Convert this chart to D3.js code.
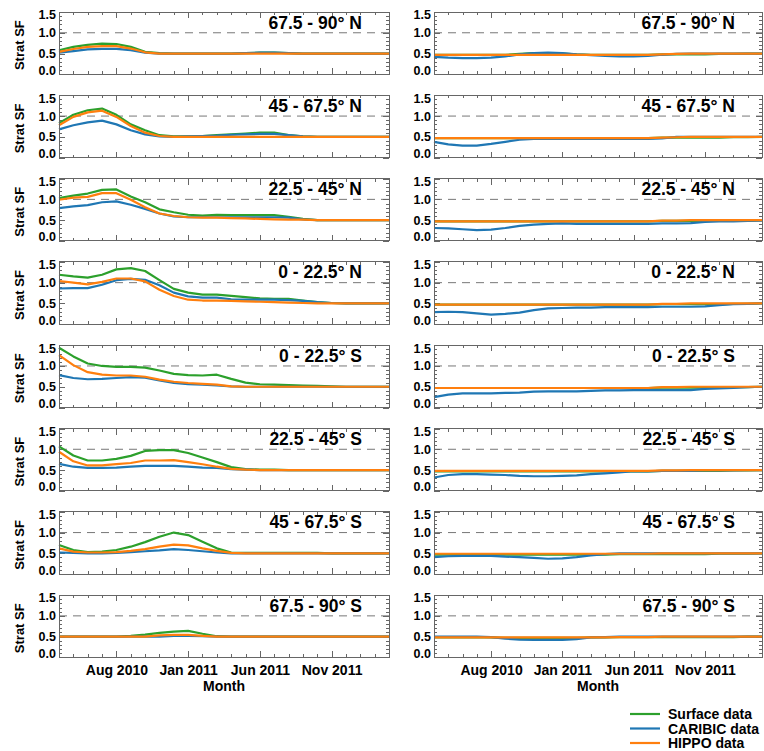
<!DOCTYPE html>
<html>
<head>
<meta charset="utf-8">
<script src="https://cdn.jsdelivr.net/npm/d3@7"></script>
<style>
    body { margin: 0; background: #fff; }
    svg text { font-family: "Liberation Sans", Arial, Helvetica, sans-serif; font-weight: bold; fill: #000; }
</style>
</head>
<body>
<svg id="chart" width="764" height="751"></svg>
<script>
// months on the x axis (Apr 2010 .. Mar 2012)
var months = ['Apr 2010', 'May 2010', 'Jun 2010', 'Jul 2010', 'Aug 2010', 'Sep 2010', 'Oct 2010', 'Nov 2010',
    'Dec 2010', 'Jan 2011', 'Feb 2011', 'Mar 2011', 'Apr 2011', 'May 2011', 'Jun 2011', 'Jul 2011',
    'Aug 2011', 'Sep 2011', 'Oct 2011', 'Nov 2011', 'Dec 2011', 'Jan 2012', 'Feb 2012', 'Mar 2012'];
var tickMonths = ['Aug 2010', 'Jan 2011', 'Jun 2011', 'Nov 2011'];
var yTicks = [0, 0.5, 1.0, 1.5];

var regions = ['67.5 - 90° N', '45 - 67.5° N', '22.5 - 45° N', '0 - 22.5° N',
    '0 - 22.5° S', '22.5 - 45° S', '45 - 67.5° S', '67.5 - 90° S'];

var seriesNames = ['Surface data', 'CARIBIC data', 'HIPPO data'];

// left column
var surfaceLeft = [
    [0.58,0.66,0.71,0.74,0.73,0.66,0.54,0.51,0.50,0.50,0.50,0.50,0.50,0.51,0.52,0.52,0.51,0.50,0.50,0.50,0.50,0.50,0.50,0.50],
    [0.83,1.03,1.14,1.18,1.03,0.80,0.66,0.54,0.51,0.51,0.52,0.54,0.56,0.58,0.60,0.60,0.54,0.51,0.50,0.50,0.50,0.50,0.50,0.50],
    [1.03,1.09,1.14,1.23,1.24,1.07,0.93,0.76,0.69,0.63,0.61,0.63,0.62,0.62,0.62,0.62,0.58,0.53,0.50,0.50,0.50,0.50,0.50,0.50],
    [1.19,1.15,1.12,1.19,1.32,1.35,1.28,1.06,0.85,0.76,0.71,0.71,0.68,0.65,0.62,0.61,0.61,0.57,0.53,0.51,0.50,0.50,0.50,0.50],
    [1.44,1.23,1.06,1.00,0.98,0.98,0.96,0.89,0.81,0.78,0.77,0.79,0.69,0.60,0.56,0.55,0.54,0.53,0.52,0.51,0.50,0.50,0.50,0.50],
    [1.07,0.85,0.73,0.73,0.77,0.84,0.96,0.98,0.98,0.91,0.80,0.69,0.57,0.52,0.51,0.51,0.50,0.50,0.50,0.50,0.50,0.50,0.50,0.50],
    [0.70,0.58,0.53,0.54,0.58,0.66,0.77,0.90,1.00,0.94,0.78,0.62,0.52,0.51,0.51,0.51,0.51,0.51,0.51,0.50,0.50,0.50,0.50,0.50],
    [0.50,0.50,0.50,0.50,0.50,0.52,0.55,0.59,0.62,0.64,0.57,0.51,0.50,0.50,0.50,0.50,0.50,0.50,0.50,0.50,0.50,0.50,0.50,0.50]
];
var caribicLeft = [
    [0.52,0.56,0.60,0.61,0.61,0.58,0.52,0.50,0.50,0.50,0.50,0.50,0.50,0.51,0.52,0.52,0.51,0.50,0.50,0.50,0.50,0.50,0.50,0.50],
    [0.68,0.78,0.85,0.89,0.80,0.66,0.56,0.51,0.50,0.51,0.52,0.53,0.55,0.56,0.57,0.57,0.54,0.51,0.50,0.50,0.50,0.50,0.50,0.50],
    [0.79,0.83,0.86,0.93,0.95,0.87,0.77,0.66,0.59,0.57,0.57,0.57,0.57,0.57,0.57,0.57,0.56,0.52,0.50,0.50,0.50,0.50,0.50,0.50],
    [0.86,0.87,0.87,0.95,1.06,1.09,1.07,0.94,0.76,0.67,0.64,0.64,0.60,0.59,0.59,0.59,0.58,0.56,0.53,0.51,0.50,0.50,0.50,0.50],
    [0.78,0.71,0.68,0.69,0.71,0.73,0.72,0.65,0.59,0.56,0.55,0.53,0.51,0.50,0.50,0.50,0.50,0.50,0.50,0.50,0.50,0.50,0.50,0.50],
    [0.65,0.58,0.55,0.55,0.56,0.58,0.60,0.60,0.60,0.58,0.56,0.55,0.52,0.51,0.50,0.50,0.50,0.50,0.50,0.50,0.50,0.50,0.50,0.50],
    [0.52,0.51,0.50,0.50,0.51,0.53,0.55,0.57,0.60,0.58,0.55,0.52,0.50,0.50,0.50,0.50,0.50,0.50,0.50,0.50,0.50,0.50,0.50,0.50],
    [0.50,0.50,0.50,0.50,0.50,0.50,0.50,0.50,0.52,0.52,0.51,0.50,0.50,0.50,0.50,0.50,0.50,0.50,0.50,0.50,0.50,0.50,0.50,0.50]
];
var hippoLeft = [
    [0.54,0.61,0.66,0.68,0.68,0.62,0.53,0.50,0.50,0.50,0.50,0.50,0.50,0.50,0.50,0.50,0.50,0.50,0.50,0.50,0.50,0.50,0.50,0.50],
    [0.78,0.98,1.09,1.13,0.98,0.76,0.60,0.52,0.50,0.50,0.50,0.50,0.50,0.50,0.50,0.50,0.50,0.50,0.50,0.50,0.50,0.50,0.50,0.50],
    [0.99,1.04,1.06,1.15,1.15,0.99,0.81,0.66,0.60,0.57,0.56,0.56,0.55,0.54,0.53,0.52,0.51,0.51,0.50,0.50,0.50,0.50,0.50,0.50],
    [1.04,1.00,0.96,1.02,1.10,1.10,1.03,0.83,0.68,0.59,0.57,0.57,0.56,0.55,0.54,0.53,0.52,0.51,0.50,0.50,0.50,0.50,0.50,0.50],
    [1.26,1.02,0.85,0.79,0.77,0.77,0.74,0.67,0.62,0.59,0.57,0.55,0.51,0.50,0.50,0.50,0.50,0.50,0.50,0.50,0.50,0.50,0.50,0.50],
    [0.94,0.71,0.61,0.61,0.64,0.67,0.73,0.73,0.74,0.69,0.64,0.58,0.53,0.51,0.50,0.50,0.50,0.50,0.50,0.50,0.50,0.50,0.50,0.50],
    [0.62,0.54,0.52,0.52,0.53,0.56,0.60,0.66,0.71,0.69,0.62,0.56,0.51,0.50,0.50,0.50,0.50,0.50,0.50,0.50,0.50,0.50,0.50,0.50],
    [0.50,0.50,0.50,0.50,0.50,0.50,0.50,0.53,0.54,0.54,0.52,0.50,0.50,0.50,0.50,0.50,0.50,0.50,0.50,0.50,0.50,0.50,0.50,0.50]
];

// right column
var surfaceRight = [
    [0.47,0.47,0.47,0.47,0.47,0.47,0.49,0.51,0.51,0.50,0.48,0.47,0.47,0.47,0.47,0.47,0.48,0.48,0.48,0.48,0.49,0.49,0.50,0.50],
    [0.47,0.47,0.47,0.47,0.47,0.47,0.47,0.47,0.47,0.47,0.47,0.47,0.47,0.47,0.47,0.47,0.48,0.48,0.48,0.48,0.48,0.49,0.49,0.50],
    [0.47,0.47,0.47,0.47,0.47,0.47,0.47,0.47,0.47,0.47,0.47,0.47,0.47,0.47,0.47,0.47,0.48,0.48,0.48,0.48,0.48,0.49,0.49,0.50],
    [0.47,0.47,0.47,0.47,0.47,0.47,0.47,0.47,0.47,0.47,0.47,0.47,0.47,0.47,0.47,0.47,0.48,0.48,0.48,0.48,0.48,0.49,0.49,0.50],
    [0.47,0.47,0.47,0.47,0.47,0.47,0.47,0.47,0.47,0.47,0.47,0.47,0.47,0.47,0.47,0.47,0.48,0.48,0.48,0.48,0.48,0.49,0.49,0.50],
    [0.47,0.47,0.47,0.47,0.47,0.47,0.47,0.47,0.47,0.47,0.47,0.47,0.47,0.47,0.47,0.47,0.48,0.48,0.48,0.48,0.48,0.49,0.49,0.50],
    [0.47,0.47,0.47,0.47,0.47,0.47,0.47,0.47,0.47,0.47,0.47,0.47,0.47,0.48,0.48,0.48,0.48,0.48,0.48,0.48,0.49,0.49,0.49,0.50],
    [0.48,0.48,0.48,0.48,0.48,0.47,0.47,0.47,0.47,0.47,0.47,0.48,0.48,0.49,0.49,0.49,0.49,0.49,0.49,0.49,0.49,0.49,0.50,0.50]
];
var caribicRight = [
    [0.42,0.40,0.39,0.39,0.40,0.43,0.48,0.51,0.52,0.51,0.48,0.46,0.44,0.43,0.43,0.44,0.47,0.49,0.50,0.50,0.50,0.50,0.50,0.50],
    [0.38,0.32,0.29,0.29,0.33,0.38,0.43,0.45,0.45,0.45,0.45,0.45,0.45,0.45,0.45,0.45,0.46,0.50,0.50,0.50,0.50,0.50,0.50,0.50],
    [0.31,0.30,0.28,0.26,0.27,0.31,0.36,0.39,0.41,0.42,0.41,0.41,0.41,0.41,0.41,0.41,0.42,0.42,0.43,0.46,0.47,0.47,0.48,0.49],
    [0.29,0.30,0.29,0.26,0.23,0.25,0.28,0.34,0.38,0.39,0.40,0.40,0.41,0.41,0.41,0.41,0.42,0.42,0.42,0.43,0.46,0.48,0.49,0.50],
    [0.25,0.31,0.34,0.34,0.34,0.35,0.36,0.38,0.39,0.39,0.39,0.40,0.41,0.41,0.42,0.42,0.42,0.42,0.42,0.45,0.46,0.47,0.49,0.50],
    [0.32,0.38,0.40,0.40,0.39,0.38,0.36,0.35,0.35,0.36,0.37,0.40,0.42,0.44,0.47,0.47,0.48,0.48,0.48,0.49,0.49,0.49,0.50,0.50],
    [0.41,0.43,0.44,0.44,0.44,0.42,0.41,0.39,0.37,0.38,0.41,0.45,0.48,0.50,0.50,0.50,0.50,0.50,0.50,0.50,0.50,0.50,0.50,0.50],
    [0.50,0.50,0.50,0.50,0.49,0.45,0.43,0.42,0.42,0.42,0.44,0.48,0.49,0.50,0.50,0.50,0.50,0.50,0.50,0.50,0.50,0.50,0.50,0.50]
];
var hippoRight = [
    [0.47,0.47,0.47,0.47,0.47,0.47,0.47,0.47,0.47,0.47,0.47,0.47,0.47,0.47,0.47,0.47,0.48,0.49,0.50,0.50,0.50,0.50,0.50,0.50],
    [0.47,0.47,0.47,0.47,0.47,0.47,0.47,0.47,0.47,0.47,0.47,0.47,0.47,0.47,0.47,0.47,0.48,0.49,0.50,0.50,0.50,0.50,0.50,0.50],
    [0.47,0.47,0.47,0.47,0.47,0.47,0.47,0.47,0.47,0.47,0.47,0.47,0.47,0.47,0.47,0.47,0.49,0.49,0.50,0.50,0.50,0.50,0.50,0.50],
    [0.47,0.47,0.47,0.47,0.47,0.47,0.47,0.47,0.47,0.47,0.47,0.47,0.47,0.47,0.47,0.47,0.49,0.49,0.50,0.50,0.50,0.50,0.50,0.50],
    [0.47,0.47,0.47,0.47,0.47,0.47,0.47,0.47,0.47,0.47,0.47,0.47,0.47,0.47,0.47,0.47,0.49,0.49,0.50,0.50,0.50,0.50,0.50,0.50],
    [0.48,0.48,0.48,0.48,0.48,0.48,0.48,0.48,0.48,0.48,0.48,0.48,0.48,0.48,0.48,0.48,0.49,0.49,0.50,0.50,0.50,0.50,0.50,0.50],
    [0.49,0.49,0.49,0.49,0.49,0.49,0.49,0.49,0.49,0.49,0.49,0.49,0.49,0.49,0.49,0.49,0.50,0.50,0.50,0.50,0.50,0.50,0.50,0.50],
    [0.48,0.48,0.48,0.48,0.48,0.48,0.48,0.48,0.48,0.48,0.48,0.48,0.48,0.49,0.49,0.49,0.50,0.50,0.50,0.50,0.50,0.50,0.50,0.50]
];

var colors = ['#2ca02c', '#1f77b4', '#ff7f0e'];
var frameColor = '#666';

var svg = d3.select('#chart');

var columns = [
    { x0: 59, x1: 389, series: [surfaceLeft, caribicLeft, hippoLeft], ylabel: true },
    { x0: 434, x1: 762, series: [surfaceRight, caribicRight, hippoRight], ylabel: false }
];
var panelTop = 12, panelStep = 83.3, panelH = 62.3;

function styleTicks(g) {
    g.select('.domain').remove();
    g.selectAll('line').attr('stroke', frameColor).attr('shape-rendering', 'crispEdges');
}

columns.forEach(function(col) {
    var x = d3.scalePoint().domain(months).range([col.x0, col.x1]);

    regions.forEach(function(region, r) {
        var top = panelTop + r * panelStep;
        var bottom = top + panelH;
        var y = d3.scaleLinear().domain([0, 1.5]).range([bottom, top]);
        var g = svg.append('g').attr('class', 'panel');
        var last = r === regions.length - 1;

        // reference line at 1.0
        g.append('line')
            .attr('x1', col.x0).attr('x2', col.x1)
            .attr('y1', y(1)).attr('y2', y(1))
            .attr('stroke', '#777')
            .attr('stroke-dasharray', '8,6');

        // minor ticks
        g.append('g').attr('transform', 'translate(0,' + bottom + ')')
            .call(d3.axisBottom(x).tickValues(months).tickSizeInner(-3).tickSizeOuter(0).tickFormat(''))
            .call(styleTicks);
        g.append('g').attr('transform', 'translate(0,' + top + ')')
            .call(d3.axisTop(x).tickValues(months).tickSizeInner(-3).tickSizeOuter(0).tickFormat(''))
            .call(styleTicks);
        var minorY = d3.range(0, 16).map(function(d) { return d / 10; });
        g.append('g').attr('transform', 'translate(' + col.x0 + ',0)')
            .call(d3.axisLeft(y).tickValues(minorY).tickSizeInner(-3).tickSizeOuter(0).tickFormat(''))
            .call(styleTicks);
        g.append('g').attr('transform', 'translate(' + col.x1 + ',0)')
            .call(d3.axisRight(y).tickValues(minorY).tickSizeInner(-3).tickSizeOuter(0).tickFormat(''))
            .call(styleTicks);

        // major ticks
        var xb = g.append('g').attr('transform', 'translate(0,' + bottom + ')')
            .call(d3.axisBottom(x).tickValues(tickMonths).tickSizeInner(-6).tickSizeOuter(0)
                .tickPadding(8).tickFormat(last ? null : ''))
            .call(styleTicks);
        xb.selectAll('text').attr('font-size', 14).style('font-family', null);
        g.append('g').attr('transform', 'translate(0,' + top + ')')
            .call(d3.axisTop(x).tickValues(tickMonths).tickSizeInner(-6).tickSizeOuter(0).tickFormat(''))
            .call(styleTicks);
        var yl = g.append('g').attr('transform', 'translate(' + col.x0 + ',0)')
            .call(d3.axisLeft(y).tickValues(yTicks).tickSizeInner(-6).tickSizeOuter(0)
                .tickPadding(3).tickFormat(d3.format('.1f')))
            .call(styleTicks);
        yl.selectAll('text')
            .attr('font-size', 12.5)
            .attr('dy', function(d) { return d === 1.5 ? '0.55em' : (d === 0 ? '0.0em' : '0.32em'); });
        g.append('g').attr('transform', 'translate(' + col.x1 + ',0)')
            .call(d3.axisRight(y).tickValues(yTicks).tickSizeInner(-6).tickSizeOuter(0).tickFormat(''))
            .call(styleTicks);

        // data lines
        var line = d3.line()
            .x(function(d, i) { return x(months[i]); })
            .y(function(d) { return y(d); });
        col.series.forEach(function(s, k) {
            g.append('path')
                .datum(s[r])
                .attr('fill', 'none')
                .attr('stroke', colors[k])
                .attr('stroke-width', 2.2)
                .attr('stroke-linejoin', 'round')
                .attr('d', line);
        });

        // frame
        g.append('rect')
            .attr('x', col.x0).attr('y', top)
            .attr('width', col.x1 - col.x0).attr('height', panelH)
            .attr('fill', 'none')
            .attr('stroke', frameColor)
            .attr('shape-rendering', 'crispEdges');

        // region title
        g.append('text')
            .attr('x', col.x1 - 27)
            .attr('y', top + 16.5)
            .attr('text-anchor', 'end')
            .attr('font-size', 17.5)
            .text(region);

        if (col.ylabel) {
            g.append('text')
                .attr('transform', 'translate(24,' + (top + panelH / 2 + 2) + ') rotate(-90)')
                .attr('text-anchor', 'middle')
                .attr('font-size', 13)
                .text('Strat SF');
        }

        if (last) {
            g.append('text')
                .attr('x', (col.x0 + col.x1) / 2)
                .attr('y', bottom + 34)
                .attr('text-anchor', 'middle')
                .attr('font-size', 14)
                .text('Month');
        }
    });
});

// legend
var legend = svg.append('g').attr('class', 'legend');
seriesNames.forEach(function(name, i) {
    var ly = 714 + i * 14.5;
    legend.append('line')
        .attr('x1', 630).attr('x2', 660)
        .attr('y1', ly).attr('y2', ly)
        .attr('stroke', colors[i])
        .attr('stroke-width', 2.2);
    legend.append('text')
        .attr('x', 668)
        .attr('y', ly + 5)
        .attr('font-size', 14)
        .text(name);
});
</script>
</body>
</html>
